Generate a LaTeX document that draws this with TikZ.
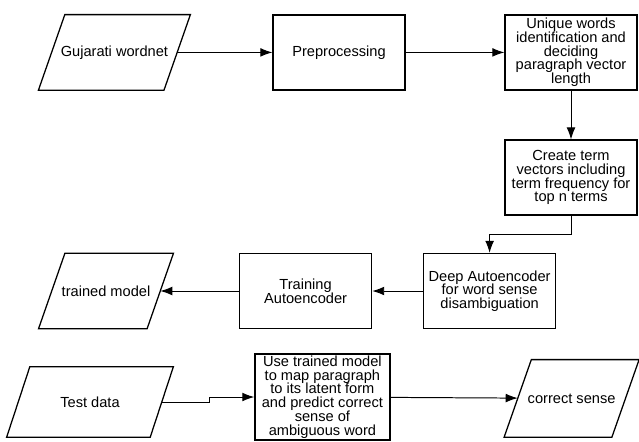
\documentclass[tikz,border=0pt]{standalone}
\usepackage{fontspec}
\setmainfont{Liberation Sans}
\usetikzlibrary{arrows.meta}

\begin{document}
\begin{tikzpicture}[
    font=\fontsize{10.4}{9.8}\selectfont,
    box/.style={draw,line width=0.9pt,text width=3.1cm,inner sep=0.1em,
      align=flush center,minimum width=3.3cm,minimum height=1.875cm},
    io/.style={inner sep=0.1em,minimum height=1.875cm,
      append after command={\pgfextra{\draw[line width=0.9pt]
        ([xshift=#1]\tikzlastnode.north west) -- ([xshift=#1]\tikzlastnode.north east)
        -- ([xshift=-#1]\tikzlastnode.south east) -- ([xshift=-#1]\tikzlastnode.south west) -- cycle;}}},
    io/.default=0.33cm,
    arw/.style={line width=0.7pt,-{Latex[length=3mm,width=2.2mm]}}]
  \useasboundingbox (0,0) rectangle (15.975,-11.025);
  \node[io,minimum width=3.125cm] (Wordnet) at (2.86,-1.31) {Gujarati wordnet};
  \node[box] (Preprocess) at (8.475,-1.31) {Preprocessing};
  \node[box] (Unique) at (14.275,-1.31) {Unique words identification and deciding paragraph vector length};
  \node[box] (TermVec) at (14.275,-4.44) {Create term vectors including term frequency for top n terms};
  \node[box] (DeepAE) at (12.24,-7.275) {Deep Autoencoder for word sense disambiguation};
  \node[box] (TrainAE) at (7.64,-7.275) {Training Autoencoder};
  \node[io,minimum width=2.7cm] (Model) at (2.65,-7.275) {trained model};
  \node[io=0.29cm,minimum width=3.575cm,minimum height=1.75cm] (TestData) at (2.25,-10.05) {Test data};
  \node[box,minimum height=2.15cm,text width=3.25cm,minimum width=3.375cm] (UseModel) at (8.06,-9.925)
    {Use trained model to map paragraph to its latent form and predict correct sense of ambiguous word};
  \node[io=0.34cm,minimum width=2.68cm,minimum height=1.925cm] (Sense) at (14.29,-9.96) {correct sense};
  \draw[arw] (Wordnet) -- (Preprocess);
  \draw[arw] (Preprocess) -- (Unique);
  \draw[arw] (Unique) -- (TermVec);
  \draw[arw] (TermVec.south) -- ++(0,-0.47) -| (DeepAE.north);
  \draw[arw] (DeepAE) -- (TrainAE);
  \draw[arw] (TrainAE) -- (Model);
  \draw[arw] (TestData.east) -- ++(1.2,0) |- (UseModel.west);
  \draw[arw] (UseModel) -- (Sense);
\end{tikzpicture}
\end{document}
